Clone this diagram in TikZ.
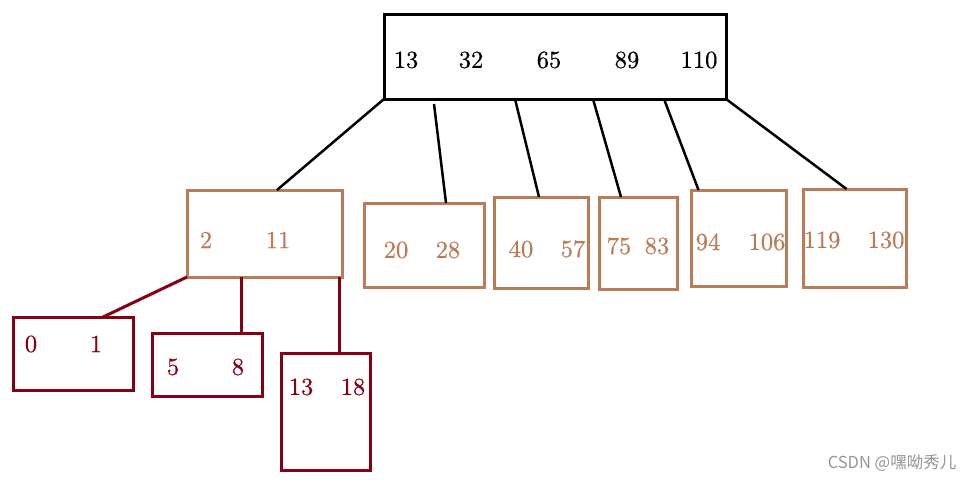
\documentclass[tikz,border=0pt]{standalone}
\usepackage{fontspec}
\newfontfamily\cjk{Noto Sans CJK SC}
\newfontfamily\numfont{lmroman10-regular.otf}[FakeBold=0.6]
\definecolor{ochre}{RGB}{185,124,89}
\definecolor{dred}{RGB}{134,0,22}
\definecolor{wm}{RGB}{150,150,150}
\begin{document}
\begin{tikzpicture}[x=1pt,y=-1pt,
  box/.style={draw, rectangle, inner sep=0pt, outer sep=0pt},
  topbox/.style={box, draw=black, line width=3pt},
  obox/.style={box, draw=ochre, line width=3pt},
  rbox/.style={box, draw=dred, line width=3pt},
  num/.style={inner sep=0pt, font=\numfont\fontsize{24.5}{28}\selectfont},
  onum/.style={num, text=ochre},
  rnum/.style={num, text=dred},
  blink/.style={draw=black, line width=2.5pt},
  rlink/.style={draw=dred, line width=3pt}]
\useasboundingbox (0,0) rectangle (976,482);
\fill[white] (0,0) rectangle (976,482);
% top node
\node[topbox, minimum width=342pt, minimum height=85pt] (top) at (555,56.5) {};
\node[num] (t1) at (406,60) {13};
\node[num] (t2) at (471,60) {32};
\node[num] (t3) at (549,60) {65};
\node[num] (t4) at (627,60) {89};
\node[num] (t5) at (699,60) {110};
% middle level
\node[obox, minimum width=155pt, minimum height=87pt] (m1) at (264.5,233.5) {};
\node[onum] (m1a) at (206,240) {2};
\node[onum] (m1b) at (278,240) {11};
\node[obox, minimum width=120pt, minimum height=84pt] (m2) at (424,245) {};
\node[onum] (m2a) at (396,250) {20};
\node[onum] (m2b) at (448,250) {28};
\node[obox, minimum width=94pt, minimum height=91pt] (m3) at (541,242.5) {};
\node[onum] (m3a) at (521,249) {40};
\node[onum] (m3b) at (573,249) {57};
\node[obox, minimum width=78pt, minimum height=92pt] (m4) at (638,243) {};
\node[onum] (m4a) at (619,246) {75};
\node[onum] (m4b) at (657,246) {83};
\node[obox, minimum width=95pt, minimum height=96pt] (m5) at (738.5,238) {};
\node[onum] (m5a) at (708,242) {94};
\node[onum] (m5b) at (767,242) {106};
\node[obox, minimum width=103pt, minimum height=98pt] (m6) at (854.5,238) {};
\node[onum] (m6a) at (822,240) {119};
\node[onum] (m6b) at (886,240) {130};
% bottom level
\node[rbox, minimum width=120pt, minimum height=73pt] (b1) at (73,353.5) {};
\node[rnum] (b1a) at (31,344) {0};
\node[rnum] (b1b) at (96,344) {1};
\node[rbox, minimum width=110pt, minimum height=63pt] (b2) at (207,364.5) {};
\node[rnum] (b2a) at (173,367) {5};
\node[rnum] (b2b) at (238,367) {8};
\node[rbox, minimum width=89pt, minimum height=117pt] (b3) at (325.5,411.5) {};
\node[rnum] (b3a) at (301,387) {13};
\node[rnum] (b3b) at (353,387) {18};
% connectors top -> middle
\draw[blink] (top.south west) -- ([xshift=12.5pt]m1.north);
\draw[blink] ([xshift=50pt,yshift=-5pt]top.south west) -- ([xshift=22pt]m2.north);
\draw[blink] ([xshift=131pt]top.south west) -- ([xshift=-2pt]m3.north);
\draw[blink] ([xshift=209pt]top.south west) -- ([xshift=-17pt]m4.north);
\draw[blink] ([xshift=280pt]top.south west) -- ([xshift=-40pt]m5.north);
\draw[blink] (top.south east) -- ([xshift=-8pt]m6.north);
% connectors middle -> bottom
\draw[rlink] (m1.south west) -- ([xshift=30pt]b1.north);
\draw[rlink] ([xshift=54pt]m1.south west) -- ([xshift=34pt]b2.north);
\draw[rlink] ([xshift=-3pt]m1.south east) -- ([xshift=13.5pt]b3.north);
% watermark
\node[inner sep=0pt, text=wm, font=\cjk\fontsize{16.5}{18}\selectfont] (wmk) at (892,463) {CSDN @嘿呦秀儿};
\end{tikzpicture}
\end{document}
